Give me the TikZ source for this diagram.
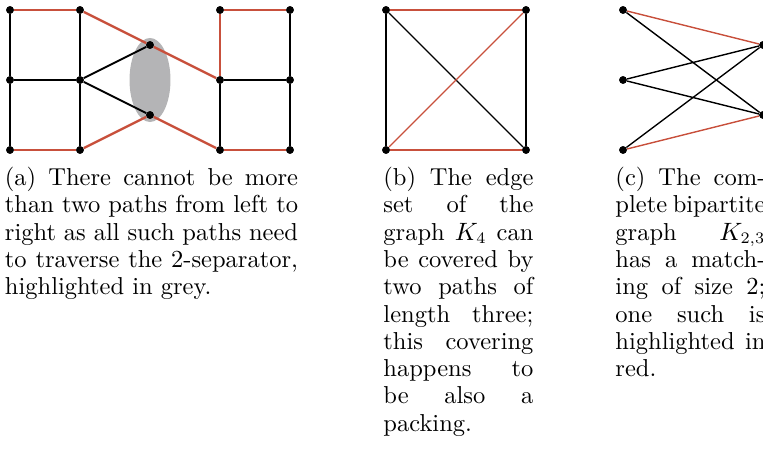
\documentclass[tikz,border=0pt]{standalone}
\usetikzlibrary{shapes.geometric}
\definecolor{hred}{RGB}{200,80,60}
\definecolor{sepgray}{RGB}{180,180,182}
\begin{document}
\begin{tikzpicture}[x=0.4367pt,y=-0.4367pt,
  dot/.style={circle,fill=black,inner sep=0pt,minimum size=3.3pt},
  ea/.style={black,line width=0.85pt},
  ra/.style={hred,line width=1pt},
  eb/.style={black,line width=0.6pt},
  rb/.style={hred,line width=0.6pt},
  captext/.style={anchor=north west,inner sep=0pt,align=justify,font=\fontsize{10.7}{11.92}\selectfont}]
\useasboundingbox (0,0) rectangle (763,458);
\clip (0,0) rectangle (763,458);
% (a)
\node[ellipse,fill=sepgray,inner sep=0pt,minimum width=17.9pt,minimum height=36.7pt] (sep) at (150,80) {};
\node[dot] (a1) at (10,10) {};
\node[dot] (a2) at (80,10) {};
\node[dot] (a3) at (10,80) {};
\node[dot] (a4) at (80,80) {};
\node[dot] (a5) at (10,150) {};
\node[dot] (a6) at (80,150) {};
\node[dot] (m1) at (150,45) {};
\node[dot] (m2) at (150,115) {};
\node[dot] (b1) at (220,10) {};
\node[dot] (b2) at (290,10) {};
\node[dot] (b3) at (220,80) {};
\node[dot] (b4) at (290,80) {};
\node[dot] (b5) at (220,150) {};
\node[dot] (b6) at (290,150) {};
\draw[ea] (a1) -- (a3) -- (a5);
\draw[ea] (a2) -- (a4) -- (a6);
\draw[ea] (a3) -- (a4);
\draw[ea] (a4) -- (m1);
\draw[ea] (a4) -- (m2);
\draw[ea] (b2) -- (b4) -- (b6);
\draw[ea] (b3) -- (b5);
\draw[ea] (b3) -- (b4);
\draw[ra] (a1) -- (a2);
\draw[ra] (a5) -- (a6);
\draw[ra] (a2) -- (m1) -- (b3);
\draw[ra] (a6) -- (m2) -- (b5);
\draw[ra] (b3) -- (b1) -- (b2);
\draw[ra] (b5) -- (b6);
\foreach \n in {a1,a2,a3,a4,a5,a6,m1,m2,b1,b2,b3,b4,b5,b6} \node[dot] at (\n) {};
% (b)
\node[dot] (k1) at (386,10) {};
\node[dot] (k2) at (526,10) {};
\node[dot] (k3) at (386,150) {};
\node[dot] (k4) at (526,150) {};
\draw[eb] (k1) -- (k3);
\draw[eb] (k2) -- (k4);
\draw[eb] (k1) -- (k4);
\draw[rb] (k1) -- (k2);
\draw[rb] (k3) -- (k4);
\draw[rb] (k3) -- (k2);
\foreach \n in {k1,k2,k3,k4} \node[dot] at (\n) {};
% (c)
\node[dot] (l1) at (623,10) {};
\node[dot] (l2) at (623,80) {};
\node[dot] (l3) at (623,150) {};
\node[dot] (r1) at (763,45) {};
\node[dot] (r2) at (763,115) {};
\draw[eb] (l1) -- (r2);
\draw[eb] (l2) -- (r1);
\draw[eb] (l2) -- (r2);
\draw[eb] (l3) -- (r1);
\draw[rb] (l1) -- (r1);
\draw[rb] (l3) -- (r2);
\foreach \n in {l1,l2,l3,r1,r2} \node[dot] at (\n) {};
% captions
\node[captext,text width=128pt] (capa) at (4.5,166) {\strut(a) There cannot be more than two paths from left to right as all such paths need to traverse the 2-separator, highlighted in grey.};
\node[captext,text width=65.5pt] (capb) at (383,166) {\strut(b) The edge set of the graph $K_4$ can be covered by two paths of length three; this covering happens to be also a packing.};
\node[captext,text width=65.5pt] (capc) at (615,166) {\strut(c) The complete bipartite graph $K_{2,3}$ has a matching of size 2; one such is highlighted in red.};
\end{tikzpicture}
\end{document}
